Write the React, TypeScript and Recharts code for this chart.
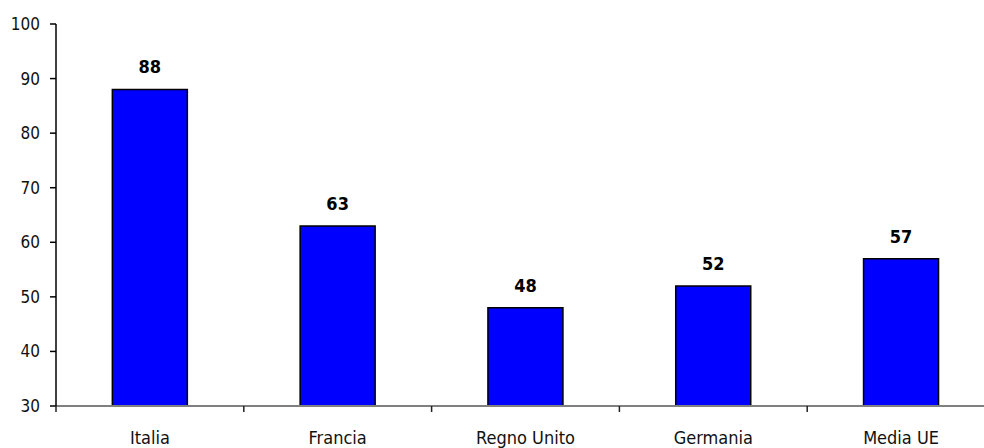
import React from 'react';
import { BarChart, Bar, XAxis, YAxis, LabelList } from 'recharts';

const CATEGORIES = ['Italia', 'Francia', 'Regno Unito', 'Germania', 'Media UE'];
const VALUES = [88, 63, 48, 52, 57];
const Y_TICKS = [30, 40, 50, 60, 70, 80, 90, 100];

const FONT = '"Liberation Sans Narrow", "Arial Narrow", "DejaVu Sans Condensed", sans-serif';
const CHART_W = 995;
const CHART_H = 448;
const Y_W = 56;
const PLOT_W = CHART_W - Y_W;

const data = CATEGORIES.map((name, i) => ({ name, value: VALUES[i] }));

function CategoryTick(props: any) {
  const { x, y, payload, index } = props;
  const band = PLOT_W / CATEGORIES.length;
  const axisY = y - 8;
  return (
    <g>
      <line x1={x - band / 2} x2={x - band / 2} y1={axisY} y2={axisY + 6} stroke="#222" strokeWidth={1.5} />
      {index === CATEGORIES.length - 1 && (
        <line x1={x + band / 2} x2={x + band / 2} y1={axisY} y2={axisY + 6} stroke="#222" strokeWidth={1.5} />
      )}
      <text x={x} y={axisY + 38} textAnchor="middle" fontFamily={FONT} fontSize={18} fill="#111">
        {payload.value}
      </text>
    </g>
  );
}

export default function App() {
  return (
    <div style={{ position: 'absolute', left: 0, top: 0, width: 984, height: 448, overflow: 'hidden', background: '#fff' }}>
      <BarChart
        width={CHART_W}
        height={CHART_H}
        data={data}
        margin={{ top: 24, right: 0, left: 0, bottom: 0 }}
        barCategoryGap="30%"
      >
        <XAxis
          dataKey="name"
          height={42}
          axisLine={{ stroke: '#808080', strokeWidth: 2 }}
          tickLine={false}
          tick={<CategoryTick />}
          interval={0}
        />
        <YAxis
          width={Y_W}
          domain={[30, 100]}
          ticks={Y_TICKS}
          interval={0}
          axisLine={{ stroke: '#000', strokeWidth: 1.5 }}
          tickLine={{ stroke: '#000', strokeWidth: 1.5 }}
          tickSize={6}
          tickMargin={10}
          tick={{ fontFamily: FONT, fontSize: 17, fill: '#111' }}
        />
        <Bar dataKey="value" fill="#0000FF" stroke="#000" strokeWidth={1.5} isAnimationActive={false}>
          <LabelList
            dataKey="value"
            position="top"
            offset={16}
            style={{ fontFamily: FONT, fontSize: 18, fontWeight: 'bold', fill: '#000' }}
          />
        </Bar>
      </BarChart>
    </div>
  );
}
